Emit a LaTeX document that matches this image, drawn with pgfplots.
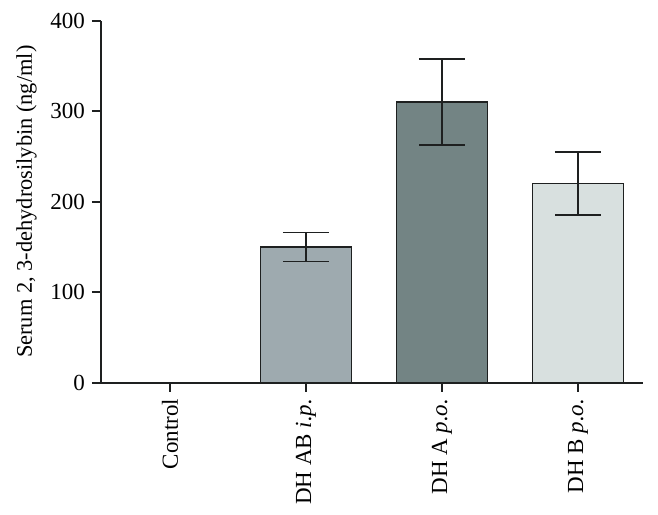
\documentclass[border=0pt]{standalone}
\usepackage{pgfplots}
\pgfplotsset{compat=1.18}
\usepackage{fontspec}
\setmainfont{Liberation Serif}

\definecolor{barAB}{RGB}{158,170,175}
\definecolor{barA}{RGB}{115,132,132}
\definecolor{barB}{RGB}{216,224,223}
\definecolor{ink}{RGB}{30,32,32}

\begin{document}
\begin{tikzpicture}
\useasboundingbox (-50.5pt,-65.65pt) rectangle (278.5pt,191.35pt);
\begin{axis}[
  at={(0,0)}, anchor=south west,
  scale only axis,
  width=271pt, height=181pt,
  xmin=-0.507, xmax=3.478,
  ymin=0, ymax=400,
  axis x line=bottom, axis y line=left,
  axis line style={-, line width=1pt, ink},
  xtick={0,1,2,3},
  xticklabels={Control, DH AB \textit{i.p.}, DH A \textit{p.o.}, DH B \textit{p.o.}},
  xticklabel style={rotate=90, anchor=east, font=\fontsize{11.5}{13}\selectfont},
  ytick={0,100,200,300,400},
  yticklabel style={font=\fontsize{11.5}{13}\selectfont},
  tick align=outside,
  major tick length=4.5pt,
  tick style={line width=1pt, ink},
  ylabel={Serum 2, 3-dehydrosilybin (ng/ml)},
  ylabel style={font=\fontsize{11.2}{13}\selectfont},
  /pgf/number format/assume math mode=true,
  ybar, bar width=45.5pt, bar shift=0pt,
  clip=false,
  error bars/y dir=both, error bars/y explicit,
  error bars/error bar style={line width=0.8pt, ink},
  error bars/error mark options={rotate=90, mark size=11.5pt, line width=0.8pt, ink},
]
\addplot[draw=none, fill=none, forget plot] coordinates {(0,0)};
\addplot[draw=ink, line width=0.75pt, fill=barAB] coordinates {(1,150) +- (0,16)};
\addplot[draw=ink, line width=0.75pt, fill=barA] coordinates {(2,310) +- (0,47.5)};
\addplot[draw=ink, line width=0.75pt, fill=barB] coordinates {(3,220) +- (0,35)};
\end{axis}
\end{tikzpicture}
\end{document}
